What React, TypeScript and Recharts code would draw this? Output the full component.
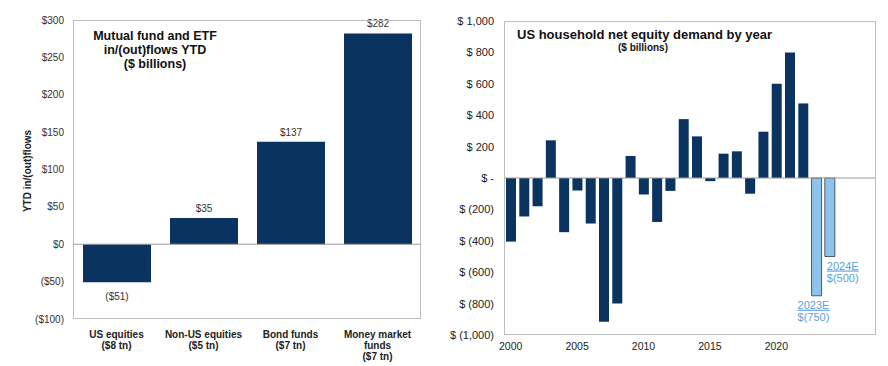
import React from 'react';
import { BarChart, Bar, XAxis, YAxis, ReferenceLine, Cell, LabelList } from 'recharts';

// left chart: mutual fund + ETF flows YTD ($bn)
const fundCats = ['US equities\n($8 tn)', 'Non-US equities\n($5 tn)', 'Bond funds\n($7 tn)', 'Money market\nfunds\n($7 tn)'];
const fundFlows = [-51, 35, 137, 282];
const fundTicks = [-100, -50, 0, 50, 100, 150, 200, 250, 300];

// right chart: US household net equity demand ($bn)
const years = [2000, 2001, 2002, 2003, 2004, 2005, 2006, 2007, 2008, 2009, 2010, 2011, 2012,
	2013, 2014, 2015, 2016, 2017, 2018, 2019, 2020, 2021, 2022, 2023, 2024];
const demand = [-405, -245, -180, 240, -345, -80, -290, -915, -800, 140, -105, -280, -82,
	375, 265, -20, 155, 170, -100, 295, 600, 800, 475, -750, -500];
const estimateYears = [2023, 2024];
const padYears = [2025, 2026, 2027];
const demandTicks = [-1000, -800, -600, -400, -200, 0, 200, 400, 600, 800, 1000];
const yearTicks = [2000, 2005, 2010, 2015, 2020];

const NAVY = '#0b3360';
const LIGHT = '#8ec4ec';
const NOTE = '#5a9fd8';
const FONT = '"Liberation Sans", Arial, sans-serif';
const BORDER = '#bdbdbd';
const NBSP = '\u00A0';

const fundData = fundCats.map((c, i) => ({ cat: c, v: fundFlows[i] }));
const demandData = [
	...years.map((y, i) => ({ year: y, v: demand[i], est: estimateYears.includes(y) })),
	...padYears.map((y) => ({ year: y, v: null, est: false })),
];

const money = (v: number) => (v < 0 ? `($${-v})` : `$${v}`);
const acct = (v: number) => {
	if (v === 0) return `$${NBSP}-`;
	const s = Math.abs(v).toLocaleString('en-US');
	return v < 0 ? `$${NBSP}(${s})` : `$${NBSP}${s}`;
};

const FundTick = (props: any) => {
	const { x, y, payload } = props;
	const lines = String(payload.value).split('\n');
	return (
		<text x={x} y={y + 11} textAnchor="middle" fontFamily={FONT} fontSize={10} fontWeight="bold" fill="#222">
			{lines.map((l, i) => (
				<tspan key={i} x={x} dy={i === 0 ? 0 : 11.2}>{l}</tspan>
			))}
		</text>
	);
};

const FundLabel = (props: any) => {
	const { x, y, width, height, value } = props;
	const top = Math.min(y, y + height);
	const bottom = Math.max(y, y + height);
	const ty = value < 0 ? bottom + 18 : top - 6;
	return (
		<text x={x + width / 2} y={ty} textAnchor="middle" fontFamily={FONT} fontSize={10} fill="#333">
			{money(value)}
		</text>
	);
};

const EstLabel = (props: any) => {
	const { x, y, height, index } = props;
	const d = demandData[index];
	if (!d || !d.est) return null;
	const bottom = Math.max(y, y + height);
	const tx = d.year === 2023 ? x - 14 : x + 2;
	return (
		<text x={tx} y={bottom + 13} fontFamily={FONT} fontSize={11} fill={NOTE}>
			<tspan x={tx} textDecoration="underline">{`${d.year}E`}</tspan>
			<tspan x={tx} dy={12.5}>{`$(${-(d.v as number)})`}</tspan>
		</text>
	);
};

// plot-area geometry for each panel
const L = { w: 440, h: 366, left: 73, top: 20, right: 19, bottom: 47 };
const R = { x: 450, w: 438, h: 366, left: 54, top: 21, right: 12, bottom: 31 };

export default function App() {
	return (
		<div style={{ position: 'absolute', left: 0, top: 0, width: 888, height: 366, background: '#fff', fontFamily: FONT }}>
			{/* left panel */}
			<div style={{ position: 'absolute', left: 0, top: 0 }}>
				<BarChart width={L.w} height={L.h} data={fundData} margin={{ top: L.top, right: L.right, bottom: 0, left: 0 }}>
					<XAxis dataKey="cat" height={L.bottom} axisLine={false} tickLine={false} interval={0} tick={<FundTick />} />
					<YAxis width={L.left} domain={[-100, 300]} ticks={fundTicks} tickFormatter={money} axisLine={false} tickLine={false}
						tickSize={0} tickMargin={9} interval={0}
						tick={{ fontFamily: FONT, fontSize: 10, fill: '#333' }} />
					<ReferenceLine y={0} stroke="#9a9a9a" strokeWidth={1} />
					<Bar dataKey="v" fill={NAVY} barSize={68} isAnimationActive={false}>
						<LabelList dataKey="v" content={<FundLabel />} />
					</Bar>
				</BarChart>
				<div style={{ position: 'absolute', left: L.left, top: L.top, width: L.w - L.left - L.right, height: L.h - L.top - L.bottom, border: `1px solid ${BORDER}`, boxSizing: 'border-box', pointerEvents: 'none' }} />
				<div style={{ position: 'absolute', left: 27, top: 171, transform: 'translate(-50%, -50%) rotate(-90deg)', whiteSpace: 'nowrap', fontSize: 10, fontWeight: 'bold', color: '#222' }}>
					YTD in/(out)flows
				</div>
				<div style={{ position: 'absolute', left: 155, top: 29, transform: 'translateX(-50%)', textAlign: 'center', fontSize: 12.5, fontWeight: 'bold', lineHeight: '14px', color: '#111', whiteSpace: 'nowrap' }}>
					Mutual fund and ETF<br />in/(out)flows YTD<br />($ billions)
				</div>
			</div>

			{/* right panel */}
			<div style={{ position: 'absolute', left: R.x, top: 0 }}>
				<BarChart width={R.w} height={R.h} data={demandData} margin={{ top: R.top, right: R.right, bottom: 0, left: 0 }}>
					<XAxis dataKey="year" height={R.bottom} axisLine={false} tickLine={false} interval={0} tickSize={0} tickMargin={8}
						tickFormatter={(v) => (yearTicks.includes(v) ? String(v) : '')}
						tick={{ fontFamily: FONT, fontSize: 10.5, fill: '#222' }} />
					<YAxis width={R.left} domain={[-1000, 1000]} ticks={demandTicks} tickFormatter={acct} axisLine={false} tickLine={false}
						tickSize={0} tickMargin={10} interval={0}
						tick={{ fontFamily: FONT, fontSize: 11, fill: '#222' }} />
					<ReferenceLine y={0} stroke="#9a9a9a" strokeWidth={1} />
					<Bar dataKey="v" barSize={10} isAnimationActive={false}>
						{demandData.map((d, i) => (
							<Cell key={i} fill={d.est ? LIGHT : NAVY} stroke={d.est ? '#4b5b6b' : 'none'} strokeWidth={d.est ? 1 : 0} />
						))}
						<LabelList dataKey="v" content={<EstLabel />} />
					</Bar>
				</BarChart>
				<div style={{ position: 'absolute', left: R.left, top: R.top, width: R.w - R.left - R.right, height: R.h - R.top - R.bottom, border: `1px solid ${BORDER}`, boxSizing: 'border-box', pointerEvents: 'none' }} />
				<div style={{ position: 'absolute', left: 67, top: 27, fontSize: 13, fontWeight: 'bold', color: '#111', whiteSpace: 'nowrap' }}>
					US household net equity demand by year
				</div>
				<div style={{ position: 'absolute', left: 193, top: 42, transform: 'translateX(-50%)', fontSize: 10, fontWeight: 'bold', color: '#111', whiteSpace: 'nowrap' }}>
					($ billions)
				</div>
			</div>
		</div>
	);
}
